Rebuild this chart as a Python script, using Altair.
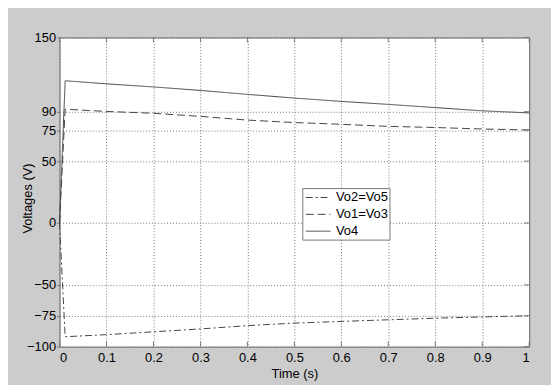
import altair as alt
import pandas as pd

# time axis (s)
t = [0.0, 0.012, 0.1, 0.2, 0.3, 0.4, 0.5, 0.6, 0.7, 0.8, 0.9, 1.0]
# series values (V)
vo4 = [0, 115, 112.5, 110, 107.2, 104, 101, 98.3, 95.9, 93.3, 90.7, 89]
vo1_vo3 = [0, 92, 90.2, 88.7, 86.2, 83.2, 81.2, 79.8, 78.1, 77.2, 76.0, 75.2]
vo2_vo5 = [0, -92, -90.3, -88, -85.7, -83, -81, -79.6, -78.3, -77, -76, -75]

series_names = ["Vo2=Vo5", "Vo1=Vo3", "Vo4"]
x_ticks = [0, 0.1, 0.2, 0.3, 0.4, 0.5, 0.6, 0.7, 0.8, 0.9, 1]
y_ticks = [-100, -75, -50, 0, 50, 75, 90, 150]

rows = []
for name, vals in zip(series_names, [vo2_vo5, vo1_vo3, vo4]):
    for ti, v in zip(t, vals):
        rows.append({"t": ti, "v": v, "series": name})
df = pd.DataFrame(rows)

W, H = 474, 312
FONT = "Liberation Sans"

xscale = alt.Scale(domain=[0, 1], nice=False, zero=False)
yscale = alt.Scale(domain=[-100, 150], nice=False, zero=False)

lines = alt.Chart(df).mark_line(strokeWidth=1, color="#444").encode(
    x=alt.X("t:Q", scale=xscale, title="Time (s)",
            axis=alt.Axis(values=x_ticks, labelExpr="datum.value == 0 ? '0' : datum.value == 1 ? '1' : format(datum.value, '.1f')",
                          grid=True, gridDash=[1, 2], gridColor="#777", gridOpacity=1,
                          ticks=False, domain=False, labelPadding=5, labelFontSize=13,
                          labelColor="black", labelFont=FONT, titleFont=FONT, titleFontSize=13,
                          titleFontWeight="normal", titleColor="black", titlePadding=3)),
    y=alt.Y("v:Q", scale=yscale, title="Voltages (V)",
            axis=alt.Axis(values=y_ticks, grid=True, gridDash=[1, 2], gridColor="#777", gridOpacity=1,
                          ticks=True, tickSize=3, tickColor="#777", domain=False, labelPadding=1,
                          labelFontSize=13, labelColor="black", labelFont=FONT, titleFont=FONT,
                          titleFontSize=13, titleFontWeight="normal", titleColor="black",
                          titleX=-32, titleY=162, titleAngle=-90, titleAlign="center",
                          titleBaseline="middle")),
    strokeDash=alt.StrokeDash("series:N",
                              scale=alt.Scale(domain=series_names, range=[[7, 3, 2, 3], [8, 4], [1, 0]]),
                              legend=alt.Legend(title=None, orient="none", legendX=245, legendY=152,
                                                fillColor="white", strokeColor="#777", padding=1,
                                                symbolType="M-0.75,0H2.375", symbolSize=256,
                                                symbolStrokeColor="#444", symbolStrokeWidth=1,
                                                symbolFillColor="transparent",
                                                labelFont=FONT, labelFontSize=13, labelColor="black",
                                                labelOffset=16, rowPadding=1)),
    detail="series:N",
)

top_ticks = alt.Chart(pd.DataFrame({"t": x_ticks})).mark_rule(color="#777").encode(
    x=alt.X("t:Q", scale=xscale), y=alt.value(0), y2=alt.value(5))
bottom_ticks = alt.Chart(pd.DataFrame({"t": x_ticks})).mark_rule(color="#777").encode(
    x=alt.X("t:Q", scale=xscale), y=alt.value(H), y2=alt.value(H - 5))
right_ticks = alt.Chart(pd.DataFrame({"v": y_ticks})).mark_rule(color="#777").encode(
    y=alt.Y("v:Q", scale=yscale), x=alt.value(W), x2=alt.value(W - 5))

chart = alt.layer(lines, top_ticks, bottom_ticks, right_ticks).properties(
    width=W, height=H,
    background="#cccccc",
    padding={"left": 52, "top": 28, "right": 22, "bottom": 40},
    autosize=alt.AutoSizeParams(type="none"),
).configure_view(stroke="#666", fill="white")

chart.save("out.html", embed_options={"renderer": "svg", "actions": False})
